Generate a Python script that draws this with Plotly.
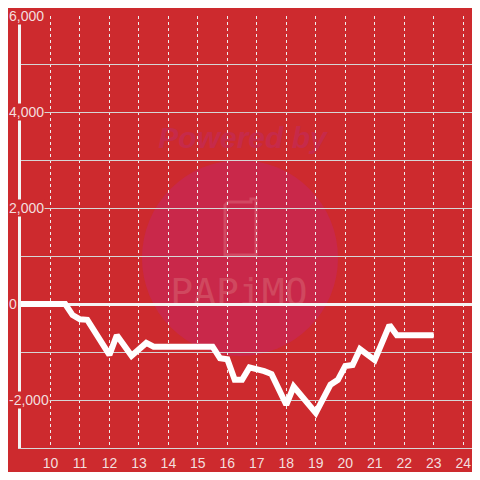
import plotly.graph_objects as go

# hours of the day vs cumulative result
hours = [9.0, 10.5, 10.75, 11.0, 11.25, 12.0, 12.25, 12.75, 13.25, 13.5, 15.5, 15.75, 16.0,
         16.25, 16.5, 16.75, 17.25, 17.5, 18.0, 18.25, 19.0, 19.5, 19.75, 20.0, 20.25,
         20.5, 21.0, 21.5, 21.75, 23.0]
result = [0, 0, -230, -320, -330, -1060, -650, -1080, -810, -890, -890, -1130, -1150,
          -1580, -1580, -1320, -1400, -1460, -2100, -1720, -2270, -1680, -1580, -1290, -1270,
          -940, -1170, -440, -650, -650]

x_ticks = list(range(10, 25))
y_label_vals = [6000, 4000, 2000, 0, -2000]
y_label_text = ["6,000", "4,000", "2,000", "0", "-2,000"]

RED = "#cd2a2e"
TXT = "#f3dede"
FONT = "Liberation Sans, Arial, sans-serif"

X_MAX = 24.3

# the page body has an 8px margin, so the figure is 464px and the layout
# is shifted to keep the plot area roughly where it is in the reference.
# pixel helpers for the watermark, in page pixels (plot area: x 21..472, y 16..448)
def px_x(p):
    return 9 + (p - 21) * (X_MAX - 9) / 451.0

def px_y(p):
    return (304 - p) / 0.048

fig = go.Figure()
fig.add_trace(go.Scatter(x=hours, y=result, mode="lines",
                         line=dict(color="#ffffff", width=6),
                         hoverinfo="skip", showlegend=False))

# watermark behind the grid
fig.add_shape(type="circle", layer="below", xref="x", yref="y",
              x0=px_x(142), x1=px_x(338), y0=px_y(356), y1=px_y(160),
              fillcolor="#c9284a", line=dict(width=0))
fig.add_shape(type="path", layer="below", xref="x", yref="y",
              path=(f"M {px_x(228)},{px_y(202)} L {px_x(251)},{px_y(202)} "
                    f"L {px_x(251)},{px_y(199)} L {px_x(256)},{px_y(199)} "
                    f"L {px_x(256)},{px_y(255)} L {px_x(225)},{px_y(255)} "
                    f"L {px_x(225)},{px_y(205)} Z"),
              fillcolor="rgba(0,0,0,0)", line=dict(color="#d24862", width=3))
fig.add_shape(type="rect", layer="below", xref="x", yref="y",
              x0=px_x(150), x1=px_x(335), y0=px_y(148), y1=px_y(120),
              fillcolor="rgba(0,0,0,0)", line=dict(width=0),
              label=dict(text="<b><i>Powered by</i></b>",
                         font=dict(family="Liberation Sans", size=30, color="#c62a4a")))
fig.add_shape(type="rect", layer="below", xref="x", yref="y",
              x0=px_x(170), x1=px_x(308), y0=px_y(308), y1=px_y(270),
              fillcolor="rgba(0,0,0,0)", line=dict(width=0),
              label=dict(text="PAPiMO",
                         font=dict(family="DejaVu Sans Mono", size=38, color="#d0485f")))

# y tick labels sit on a red box over the axis line
for v, t in zip(y_label_vals, y_label_text):
    fig.add_annotation(xref="paper", yref="y", x=0, y=v, text=t, showarrow=False,
                       xanchor="left", yanchor="middle", xshift=-13,
                       bgcolor=RED, borderpad=0,
                       font=dict(family=FONT, size=14, color=TXT))

fig.update_xaxes(range=[9, X_MAX], tickvals=x_ticks, showgrid=True,
                 gridcolor="#eeeeee", griddash="dot", gridwidth=1,
                 showline=True, linecolor="#d8d8d8", linewidth=1,
                 zeroline=False, ticks="", ticklabelstandoff=2,
                 tickfont=dict(family=FONT, size=14, color=TXT))
fig.update_yaxes(range=[-3000, 6000], dtick=1000, showticklabels=False,
                 showgrid=True, gridcolor="#d6d6d6", gridwidth=1,
                 zeroline=True, zerolinecolor="#f4f4f4", zerolinewidth=3,
                 showline=True, linecolor="#f4f4f4", linewidth=3)

fig.update_layout(width=464, height=464, paper_bgcolor=RED, plot_bgcolor=RED,
                  margin=dict(l=13, r=0, t=8, b=24, autoexpand=False), showlegend=False,
                  font=dict(family=FONT, color=TXT))

fig.write_html("out.html")
